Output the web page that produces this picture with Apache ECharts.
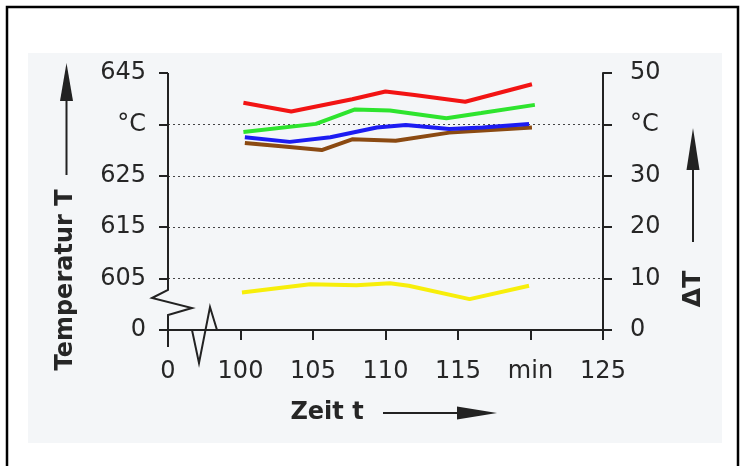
<!DOCTYPE html>
<html>
<head>
<meta charset="utf-8">
<script src="https://cdn.jsdelivr.net/npm/echarts@6/dist/echarts.min.js"></script>
<style>
  html, body { margin: 0; padding: 0; background: #fff; }
  #main { width: 745px; height: 466px; }
</style>
</head>
<body>
<div id="main"></div>
<script>
// x axis ticks (minutes); 95 stands for the broken "0", 120 is labelled "min"
const xTicks = [95, 100, 105, 110, 115, 120, 125];
const xTickLabels = { 95: "0", 120: "min" };
// left axis labels (broken temperature axis), right axis labels (delta T)
const leftLabels = { 0: "0", 10: "605", 20: "615", 30: "625", 40: "°C", 50: "645" };
const rightLabels = { 40: "°C" };

// temperature curves [t (min), T (°C)]
const redT = [[100.2, 639.2], [103.5, 637.5], [107.7, 639.9], [110, 641.4], [112, 640.7], [115.5, 639.4], [120.1, 642.8]];
const greenT = [[100.2, 633.5], [105.2, 635.1], [107.9, 637.9], [110.3, 637.7], [114.2, 636.2], [116.6, 637.2], [120.3, 638.8]];
const blueT = [[100.3, 632.5], [103.4, 631.6], [106.2, 632.5], [109.4, 634.4], [111.4, 634.9], [114.4, 634.1], [116.7, 634.4], [119.9, 635.1]];
const brownT = [[100.3, 631.4], [103, 630.7], [105.6, 630.0], [107.7, 632.1], [110.7, 631.8], [114.4, 633.4], [120.1, 634.4]];
// delta T curve [t (min), dT (°C)]
const yellowDT = [[100.1, 7.3], [104.8, 8.9], [108, 8.7], [110.3, 9.1], [111.6, 8.6], [115.8, 6.0], [119.9, 8.6]];

const G = { left: 168, top: 73, right: 603, bottom: 330 };
const FONT = "DejaVu Sans, Liberation Sans, Arial, sans-serif";
const labelFont = { fontSize: 24, color: "#262626", fontFamily: FONT };
const axisCol = "#222";

let myChart = echarts.init(document.getElementById("main"));

function line(color, data, yIdx) {
  return {
    type: "line",
    data: data,
    xAxisIndex: 0,
    yAxisIndex: yIdx,
    symbol: "none",
    lineStyle: { color: color, width: 4 },
    z: 3
  };
}

myChart.setOption({
  backgroundColor: "#fff",
  animation: false,
  grid: {
    left: G.left,
    top: G.top,
    width: G.right - G.left,
    height: G.bottom - G.top,
    show: false
  },
  xAxis: [
    {
      type: "value",
      min: xTicks[0],
      max: xTicks[xTicks.length - 1],
      interval: 5,
      position: "bottom",
      axisLine: { show: false },
      axisTick: { show: true, inside: false, length: 10, lineStyle: { color: axisCol, width: 2 } },
      axisLabel: Object.assign({
        margin: 30,
        formatter: function (v) { return xTickLabels[v] !== undefined ? xTickLabels[v] : String(v); }
      }, labelFont),
      splitLine: { show: false }
    },
    {
      type: "value",
      min: xTicks[0],
      max: xTicks[xTicks.length - 1],
      position: "top",
      axisLine: { show: true, lineStyle: { color: axisCol, width: 2 } },
      axisTick: { show: false },
      axisLabel: { show: false },
      splitLine: { show: false }
    }
  ],
  yAxis: [
    {
      type: "value",
      min: 0,
      max: 50,
      interval: 10,
      position: "left",
      axisLine: { show: false },
      axisTick: { show: true, inside: false, length: 9, lineStyle: { color: axisCol, width: 2 } },
      axisLabel: Object.assign({
        margin: 22,
        formatter: function (v) { return leftLabels[v]; }
      }, labelFont),
      splitLine: {
        show: true,
        lineStyle: {
          color: ["rgba(0,0,0,0)", "#444", "#444", "#444", "#444", "rgba(0,0,0,0)"],
          type: [2, 3],
          width: 1
        }
      }
    },
    {
      type: "value",
      min: 0,
      max: 50,
      interval: 10,
      position: "right",
      axisLine: { show: true, lineStyle: { color: axisCol, width: 2 } },
      axisTick: { show: true, inside: false, length: 9, lineStyle: { color: axisCol, width: 2 } },
      axisLabel: Object.assign({
        margin: 27,
        formatter: function (v) { return rightLabels[v] !== undefined ? rightLabels[v] : String(v); }
      }, labelFont),
      splitLine: { show: false }
    },
    {
      type: "value",
      min: 595,
      max: 645,
      show: false
    }
  ],
  series: [
    line("#8b4a12", brownT, 2),
    line("#1c1cf2", blueT, 2),
    line("#2ee42e", greenT, 2),
    line("#f21414", redT, 2),
    line("#f7ee0a", yellowDT, 1)
  ],
  graphic: [
    // scan background and outer frame
    { type: "rect", z: -10, shape: { x: 28, y: 53, width: 694, height: 390 }, style: { fill: "#f4f6f8" } },
    { type: "rect", z: 10, shape: { x: 7, y: 7, width: 731, height: 470 }, style: { fill: "none", stroke: "#000", lineWidth: 2.5 } },
    // left axis line with break
    {
      type: "polyline", z: 10,
      shape: { points: [[G.left, G.top], [G.left, 290], [152, 298], [192, 308], [G.left, 315], [G.left, 347]] },
      style: { stroke: axisCol, lineWidth: 2, fill: "none" }
    },
    // bottom axis line with break
    {
      type: "polyline", z: 10,
      shape: { points: [[G.left, G.bottom], [192, G.bottom], [199, 363], [210, 307], [217, G.bottom], [G.right, G.bottom]] },
      style: { stroke: axisCol, lineWidth: 2, fill: "none" }
    },
    // axis names
    {
      type: "text", z: 10, x: 66, y: 280, rotation: Math.PI / 2,
      style: { text: "Temperatur T", font: "bold 24px " + FONT, fill: "#262626", align: "center", verticalAlign: "middle" }
    },
    {
      type: "text", z: 10, x: 327, y: 413,
      style: { text: "Zeit t", font: "bold 24px " + FONT, fill: "#262626", align: "center", verticalAlign: "middle" }
    },
    {
      type: "text", z: 10, x: 693, y: 289, rotation: Math.PI / 2,
      style: { text: "ΔT", font: "bold 25px " + FONT, fill: "#262626", align: "center", verticalAlign: "middle" }
    },
    // arrows
    { type: "line", z: 10, shape: { x1: 66.5, y1: 175, x2: 66.5, y2: 95 }, style: { stroke: "#222", lineWidth: 2 } },
    { type: "polygon", z: 10, shape: { points: [[60, 101], [66.5, 63], [73, 101]] }, style: { fill: "#222" } },
    { type: "line", z: 10, shape: { x1: 383, y1: 413, x2: 460, y2: 413 }, style: { stroke: "#222", lineWidth: 2 } },
    { type: "polygon", z: 10, shape: { points: [[457, 406.5], [497, 413], [457, 419.5]] }, style: { fill: "#222" } },
    { type: "line", z: 10, shape: { x1: 693, y1: 242, x2: 693, y2: 165 }, style: { stroke: "#222", lineWidth: 2 } },
    { type: "polygon", z: 10, shape: { points: [[686.5, 170], [693, 128], [699.5, 170]] }, style: { fill: "#222" } }
  ]
});
</script>
</body>
</html>
